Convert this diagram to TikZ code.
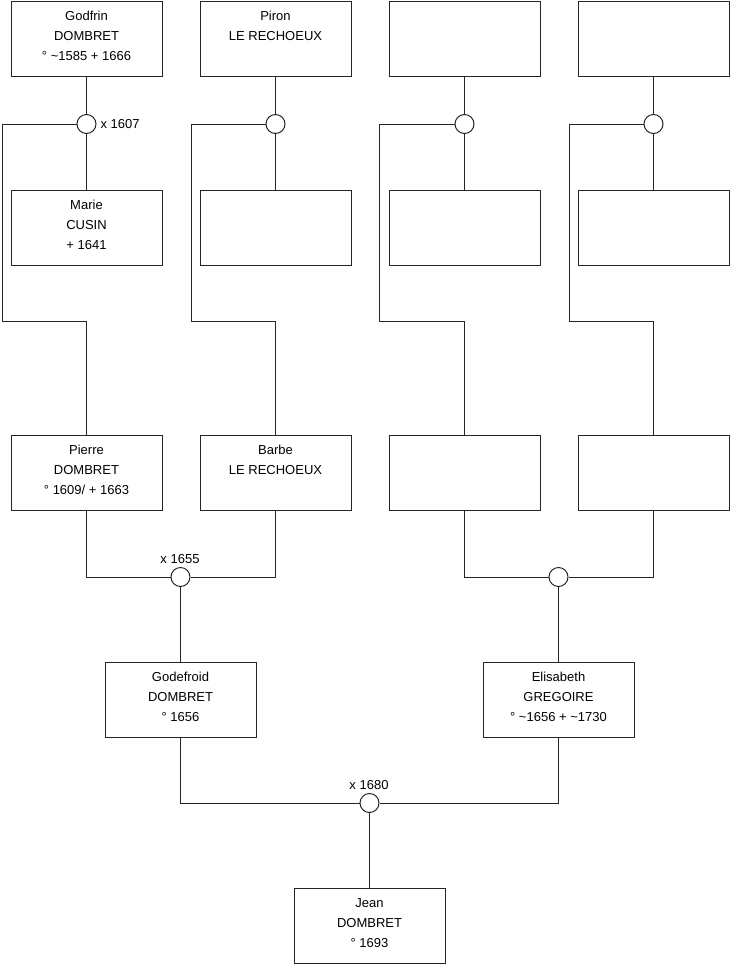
\documentclass[tikz,border=0pt]{standalone}
\usepackage{fontspec}
\setmainfont{Liberation Sans}
\begin{document}
\begin{tikzpicture}[x=1pt,y=-1pt,
  line width=1pt,
  person/.style={draw=black!85,fill=white,minimum width=151pt,minimum height=75pt,inner sep=0pt},
  union/.style={draw=black!85,fill=white,circle,minimum size=19pt,inner sep=0pt},
  txt/.style={anchor=north,inner sep=0pt,align=center,font=\fontsize{13}{20}\selectfont},
  lbl/.style={inner sep=0pt,font=\fontsize{13}{20}\selectfont},
  link/.style={draw=black!85}]
\useasboundingbox[fill=white] (0,0) rectangle (740,975);

% row 1
\node[person] (g1) at (86.5,38.5) {};
\node[person] (g2) at (275.5,38.5) {};
\node[person] (g3) at (464.5,38.5) {};
\node[person] (g4) at (653.5,38.5) {};
% row 2
\node[person] (w1) at (86.5,227.5) {};
\node[person] (w2) at (275.5,227.5) {};
\node[person] (w3) at (464.5,227.5) {};
\node[person] (w4) at (653.5,227.5) {};
% row 3
\node[person] (p1) at (86.5,472.5) {};
\node[person] (p2) at (275.5,472.5) {};
\node[person] (p3) at (464.5,472.5) {};
\node[person] (p4) at (653.5,472.5) {};
% row 4
\node[person] (god) at (180.5,699.5) {};
\node[person] (eli) at (558.5,699.5) {};
% row 5
\node[person] (jean) at (369.5,925.5) {};

% texts
\node[txt] (tg1) at ([yshift=-5.5pt]g1.north) {\strut Godfrin\\DOMBRET\\° \textasciitilde1585 + 1666};
\node[txt] (tg2) at ([yshift=-5.5pt]g2.north) {\strut Piron\\LE RECHOEUX};
\node[txt] (tw1) at ([yshift=-5.5pt]w1.north) {\strut Marie\\CUSIN\\+ 1641};
\node[txt] (tp1) at ([yshift=-5.5pt]p1.north) {\strut Pierre\\DOMBRET\\° 1609/ + 1663};
\node[txt] (tp2) at ([yshift=-5.5pt]p2.north) {\strut Barbe\\LE RECHOEUX};
\node[txt] (tgod) at ([yshift=-5.5pt]god.north) {\strut Godefroid\\DOMBRET\\° 1656};
\node[txt] (teli) at ([yshift=-5.5pt]eli.north) {\strut Elisabeth\\GREGOIRE\\° \textasciitilde1656 + \textasciitilde1730};
\node[txt] (tjean) at ([yshift=-5.5pt]jean.north) {\strut Jean\\DOMBRET\\° 1693};

% unions
\node[union] (u1) at (86.5,124) {};
\node[union] (u2) at (275.5,124) {};
\node[union] (u3) at (464.5,124) {};
\node[union] (u4) at (653.5,124) {};
\node[union] (m1) at (180.5,577) {};
\node[union] (m2) at (558.5,577) {};
\node[union] (m3) at (369.5,803) {};

\node[lbl,anchor=base west] (l1) at (100,128.5) {x 1607};
\node[lbl,anchor=base] (l2) at (180,563) {x 1655};
\node[lbl,anchor=base] (l3) at (369,789.5) {x 1680};

% jog coordinates
\coordinate (j1) at (2,321.5);
\coordinate (j2) at (191,321.5);
\coordinate (j3) at (379.5,321.5);
\coordinate (j4) at (569,321.5);

% connectors row 1 -> row 2 -> row 3
\foreach \i in {1,2,3,4}{
  \draw[link] (g\i.south) -- (u\i.north);
  \draw[link] (u\i.south) -- (w\i.north);
  \draw[link] (u\i.west) -| (j\i) -| (p\i.north);
}

% row 3 -> unions
\draw[link] (p1.south) |- (m1.west);
\draw[link] (p2.south) |- (m1.east);
\draw[link] (p3.south) |- (m2.west);
\draw[link] (p4.south) |- (m2.east);
\draw[link] (m1.south) -- (god.north);
\draw[link] (m2.south) -- (eli.north);

% row 4 -> union -> Jean
\draw[link] (god.south) |- (m3.west);
\draw[link] (eli.south) |- (m3.east);
\draw[link] (m3.south) -- (jean.north);
\end{tikzpicture}
\end{document}
